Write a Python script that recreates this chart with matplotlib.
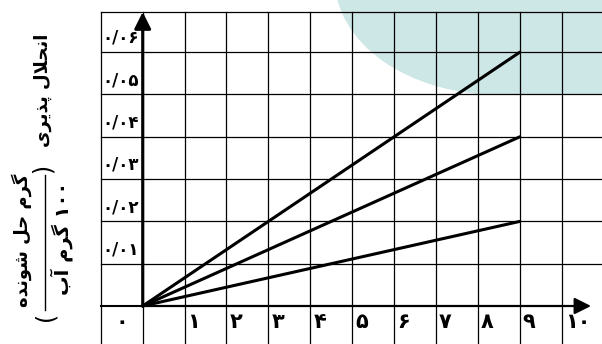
import matplotlib
matplotlib.use('Agg')
import matplotlib.pyplot as plt
from matplotlib.patches import Ellipse, Rectangle
from matplotlib.lines import Line2D

# data: three straight lines from the origin
mass = [0, 9]
sol_a = [0, 0.06]
sol_b = [0, 0.04]
sol_c = [0, 0.02]

x_ticks = list(range(0, 11))
y_ticks = [0.01, 0.02, 0.03, 0.04, 0.05, 0.06]
fa_digits = '۰۱۲۳۴۵۶۷۸۹'

title_txt = 'انحلال پذیری'
num_txt = 'گرم حل شونده'
den_txt = '۱۰۰ گرم آب'

# arabic presentation forms: isolated, final, initial, medial
FORMS = {
    'ا': ('\uFE8D', '\uFE8E', None, None),
    'آ': ('\uFE81', '\uFE82', None, None),
    'ب': ('\uFE8F', '\uFE90', '\uFE91', '\uFE92'),
    'پ': ('\uFB56', '\uFB57', '\uFB58', '\uFB59'),
    'ح': ('\uFEA1', '\uFEA2', '\uFEA3', '\uFEA4'),
    'د': ('\uFEA9', '\uFEAA', None, None),
    'ذ': ('\uFEAB', '\uFEAC', None, None),
    'ر': ('\uFEAD', '\uFEAE', None, None),
    'ش': ('\uFEB5', '\uFEB6', '\uFEB7', '\uFEB8'),
    'گ': ('\uFB92', '\uFB93', '\uFB94', '\uFB95'),
    'ل': ('\uFEDD', '\uFEDE', '\uFEDF', '\uFEE0'),
    'م': ('\uFEE1', '\uFEE2', '\uFEE3', '\uFEE4'),
    'ن': ('\uFEE5', '\uFEE6', '\uFEE7', '\uFEE8'),
    'ه': ('\uFEE9', '\uFEEA', '\uFEEB', '\uFEEC'),
    'و': ('\uFEED', '\uFEEE', None, None),
    'ی': ('\uFBFC', '\uFBFD', '\uFBFE', '\uFBFF'),
}
LAM_ALEF = ('\uFEFB', '\uFEFC')


def shape(word):
    out = []
    i = 0
    n = len(word)
    while i < n:
        c = word[i]
        f = FORMS.get(c)
        if f is None:
            out.append(c)
            i += 1
            continue
        prev = word[i - 1] if i > 0 else ''
        jp = prev in FORMS and FORMS[prev][2] is not None
        if c == 'ل' and i + 1 < n and word[i + 1] == 'ا':
            out.append(LAM_ALEF[1] if jp else LAM_ALEF[0])
            i += 2
            continue
        nxt = word[i + 1] if i + 1 < n else ''
        jn = f[2] is not None and nxt in FORMS
        if jp and jn:
            out.append(f[3])
        elif jp:
            out.append(f[1])
        elif jn:
            out.append(f[2])
        else:
            out.append(f[0])
        i += 1
    return ''.join(out)


def rtl(text):
    words = text.split(' ')
    return ' '.join(w if w.isdigit() else shape(w)[::-1] for w in reversed(words))


def fa(s):
    return ''.join(fa_digits[int(ch)] if ch.isdigit() else ch for ch in s)


W, H = 602, 344
fig = plt.figure(figsize=(W / 100, H / 100), dpi=100)
plt.rcParams['font.family'] = 'DejaVu Sans'

# pixel mapping of the grid
ox, oy = 142.7, 306.0
sx, sy = 41.9, 4230.0

ax = fig.add_axes([0, 0, 1, 1])
ax.set_xlim(-ox / sx, (W - ox) / sx)
ax.set_ylim(-(H - oy) / sy, oy / sy)
ax.axis('off')
ax.set_facecolor('none')

# teal blob in the background
teal = '#cde6e6'
fig.add_artist(Ellipse((500 / W, 1 + 20 / H), 330 / W, 230 / H,
                       transform=fig.transFigure, color=teal, zorder=-5, lw=0))
fig.add_artist(Rectangle((500 / W, 1 - 95 / H), 110 / W, 95 / H,
                         transform=fig.transFigure, color=teal, zorder=-5, lw=0))

ymin = ax.get_ylim()[0]
xmax = ax.get_xlim()[1]
top = 0.0695
for xv in range(-1, 12):
    ax.plot([xv, xv], [ymin, top], color='black', lw=0.9, zorder=1)
for yv in [0.01, 0.02, 0.03, 0.04, 0.05, 0.06, top]:
    ax.plot([-1, xmax], [yv, yv], color='black', lw=0.9, zorder=1)
ax.plot([-1, 0], [0, 0], color='black', lw=1.5, zorder=2)

# axes with arrows
ax.annotate('', xy=(10.7, 0), xytext=(0, 0),
            arrowprops=dict(arrowstyle='-|>,head_length=1.0,head_width=0.5',
                            mutation_scale=10, lw=1.6, color='black',
                            shrinkA=0, shrinkB=0), zorder=3)
ax.annotate('', xy=(0, top), xytext=(0, 0),
            arrowprops=dict(arrowstyle='-|>,head_length=1.0,head_width=0.5',
                            mutation_scale=10, lw=2.2, color='black',
                            shrinkA=0, shrinkB=0), zorder=3)

for s in [sol_a, sol_b, sol_c]:
    ax.plot(mass, s, color='black', lw=2.2, solid_capstyle='round', zorder=4)

# tick labels
for xv in x_ticks:
    if xv == 0:
        ax.text(-0.5, -0.0038, fa(str(xv)), ha='center', va='center',
                fontsize=15, fontweight='bold')
    else:
        ax.text(xv + 0.07, -0.0038, fa(str(xv)), ha='left', va='center',
                fontsize=15, fontweight='bold')
for yv in y_ticks:
    lab = fa('0/0' + str(int(round(yv * 100))))
    ax.text(-0.96, yv + 0.0034, lab, ha='left', va='center',
            fontsize=12, fontweight='bold')

# y axis title (rotated fraction)
fig.text(43 / W, 1 - 90 / H, rtl(title_txt), rotation=90, ha='center',
         va='center', fontsize=13, fontweight='bold')
fig.text(22 / W, 1 - 240 / H, rtl(num_txt), rotation=90, ha='center',
         va='center', fontsize=13, fontweight='bold')
fig.text(62 / W, 1 - 238 / H, rtl(den_txt), rotation=90, ha='center',
         va='center', fontsize=14, fontweight='bold')
fig.add_artist(Line2D([45 / W, 45 / W], [1 - 175 / H, 1 - 310 / H],
                      transform=fig.transFigure, color='black', lw=1.0))
fig.text(43 / W, 1 - 168 / H, ')', rotation=90, ha='center', va='center',
         fontsize=17)
fig.text(46 / W, 1 - 316 / H, '(', rotation=90, ha='center', va='center',
         fontsize=17)

fig.savefig('out.png', dpi=100)
